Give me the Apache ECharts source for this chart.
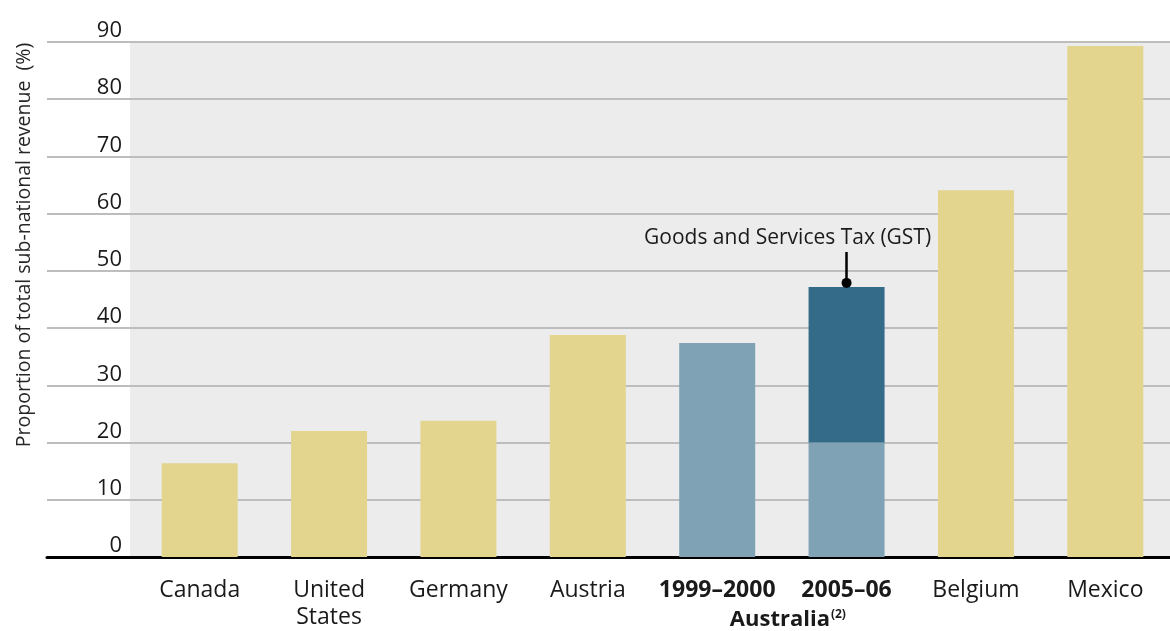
<!DOCTYPE html>
<html>
<head>
<meta charset="utf-8">
<script src="https://cdn.jsdelivr.net/npm/echarts@6/dist/echarts.min.js"></script>
<style>
  html, body { margin: 0; padding: 0; background: #fff; }
  #chart { width: 1170px; height: 631px; }
</style>
</head>
<body>
<div id="chart"></div>
<script>
// data
const categories = ['Canada', 'United\nStates', 'Germany', 'Austria', '1999–2000', '2005–06', 'Belgium', 'Mexico']
const boldCategories = ['1999–2000', '2005–06']
const otherCountries = [16.4, 22.0, 23.8, 38.8, '-', '-', 64.1, 89.3]
const australiaBase = ['-', '-', '-', '-', 37.4, 20.0, '-', '-']
const australiaGst = ['-', '-', '-', '-', '-', 27.2, '-', '-']
const yMin = 0
const yMax = 90
const yInterval = 10
const gstNote = { category: '2005–06', from: 47.9, to: 53.3, text: 'Goods and Services Tax (GST)' }
const groupLabel = { first: '1999–2000', last: '2005–06', text: 'Australia', note: '(2)' }
const yTitle = 'Proportion of total sub-national revenue  (%)'

const FONT = '"Open Sans", "Noto Sans", sans-serif'
const TEXT = '#1a1a1a'

const chart = echarts.init(document.getElementById('chart'))

const barSeries = (name, data, color) => ({
  name,
  type: 'bar',
  stack: 'total',
  xAxisIndex: 0,
  yAxisIndex: 0,
  barWidth: 76,
  data,
  itemStyle: { color },
  emphasis: { disabled: true },
  animation: false
})

const gst = barSeries('GST', australiaGst, '#336b88')
gst.markLine = {
  silent: true,
  animation: false,
  symbol: ['circle', 'none'],
  symbolSize: 10,
  lineStyle: { color: '#000', width: 2.5, type: 'solid' },
  itemStyle: { color: '#000' },
  label: {
    show: true,
    position: 'end',
    distance: 3,
    offset: [-59, 0],
    formatter: gstNote.text,
    color: TEXT,
    fontFamily: FONT,
    fontSize: 21
  },
  data: [[
    { coord: [gstNote.category, gstNote.from] },
    { coord: [gstNote.category, gstNote.to] }
  ]]
}

chart.setOption({
  animation: false,
  textStyle: { fontFamily: FONT },
  grid: [
    { left: 135, right: -2, top: 42, bottom: 74 },
    { left: 47, right: 0, top: 42, bottom: 74 }
  ],
  xAxis: [
    {
      type: 'category',
      gridIndex: 0,
      data: categories,
      axisLine: { show: false },
      axisTick: { show: false },
      axisLabel: {
        margin: 20,
        interval: 0,
        formatter: (v) => boldCategories.includes(v) ? '{b|' + v + '}' : '{n|' + v.split('\n').join('}\n{n|') + '}',
        rich: {
          n: { fontFamily: FONT, fontSize: 23, color: TEXT, lineHeight: 27 },
          b: { fontFamily: FONT, fontSize: 23, fontWeight: 'bold', color: TEXT, lineHeight: 27 }
        }
      }
    },
    {
      type: 'value',
      gridIndex: 1,
      min: 0,
      max: 1,
      axisLine: { show: true, lineStyle: { color: '#000', width: 3 } },
      axisTick: { show: false },
      axisLabel: { show: false },
      splitLine: { show: false }
    }
  ],
  yAxis: [
    {
      type: 'value',
      gridIndex: 0,
      min: yMin,
      max: yMax,
      interval: yInterval,
      axisLine: { show: false },
      axisTick: { show: false },
      splitLine: { show: false },
      axisLabel: {
        margin: 13,
        fontSize: 22,
        color: TEXT,
        fontFamily: FONT,
        verticalAlign: 'bottom',
        lineHeight: 22
      }
    },
    {
      type: 'value',
      gridIndex: 1,
      min: yMin,
      max: yMax,
      interval: yInterval,
      axisLine: { show: false },
      axisTick: { show: false },
      axisLabel: { show: false },
      splitLine: { show: true, lineStyle: { color: '#bdbdbd', width: 2 } }
    }
  ],
  series: [
    barSeries('Other countries', otherCountries, '#e3d48e'),
    barSeries('Australia', australiaBase, '#7fa3b5'),
    gst
  ]
})

// decorations: grey panel, rotated axis title, group label under the two Australian bars
const p1 = chart.convertToPixel({ xAxisIndex: 0 }, groupLabel.first)
const p2 = chart.convertToPixel({ xAxisIndex: 0 }, groupLabel.last)

chart.setOption({
  graphic: [
    {
      type: 'rect',
      z: -10,
      silent: true,
      shape: { x: 130, y: 42, width: 1040, height: 515 },
      style: { fill: '#ececec' }
    },
    {
      type: 'text',
      x: 24,
      y: 245,
      rotation: Math.PI / 2,
      silent: true,
      style: {
        text: yTitle,
        fill: '#262626',
        font: '19.5px ' + FONT,
        align: 'center',
        verticalAlign: 'middle'
      }
    },
    {
      type: 'text',
      x: (p1 + p2) / 2 + 6,
      y: 620,
      silent: true,
      style: {
        text: '{a|' + groupLabel.text + '}{s|' + groupLabel.note + '}',
        align: 'center',
        verticalAlign: 'middle',
        rich: {
          a: { fontFamily: FONT, fontSize: 22, fontWeight: 'bold', fill: TEXT, color: TEXT },
          s: { fontFamily: FONT, fontSize: 12, fontWeight: 'bold', fill: TEXT, color: TEXT, verticalAlign: 'top', padding: [0, 0, 10, 1] }
        }
      }
    }
  ]
})
</script>
</body>
</html>
